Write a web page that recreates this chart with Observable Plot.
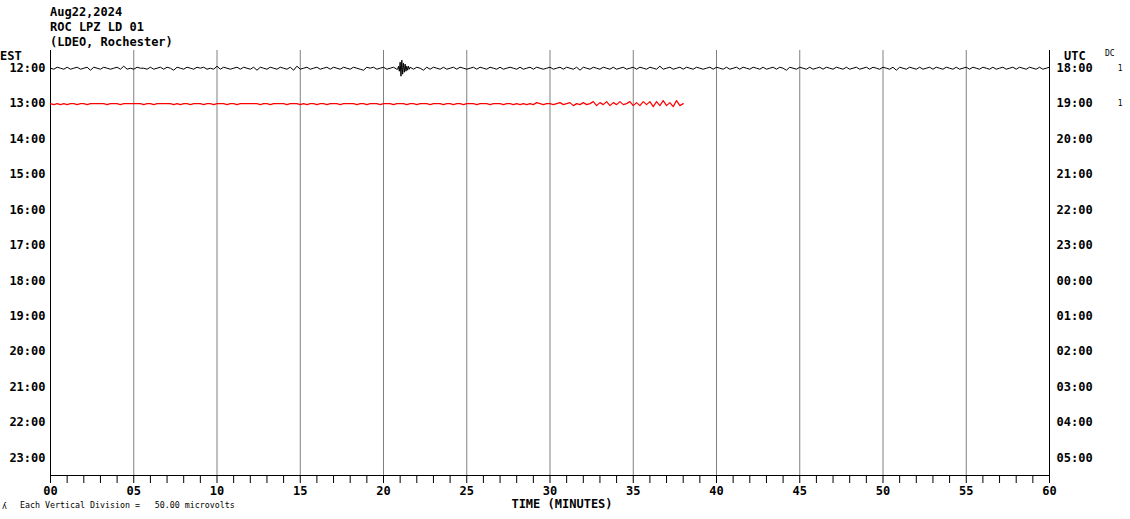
<!DOCTYPE html>
<html>
<head>
<meta charset="utf-8">
<script src="https://cdn.jsdelivr.net/npm/d3@7"></script>
<script src="https://cdn.jsdelivr.net/npm/@observablehq/plot@0.6"></script>
<style>
  body { margin: 0; background: #fff; }
  #wrap { position: relative; width: 1130px; height: 519px; font-family: "DejaVu Sans Mono", monospace; font-weight: bold; font-size: 12px; color: #000; }
  #wrap .t { position: absolute; white-space: pre; line-height: 14px; }
  #wrap svg { position: absolute; left: 0; top: 0; }
</style>
</head>
<body>
<div id="wrap">
  <div class="t" style="left:50px;top:5px;">Aug22,2024</div>
  <div class="t" style="left:50px;top:20px;">ROC LPZ LD 01</div>
  <div class="t" style="left:50px;top:35px;">(LDEO, Rochester)</div>
  <div class="t" style="left:0px;top:49px;">EST</div>
  <div class="t" style="left:1064px;top:49px;">UTC</div>
  <div class="t" style="left:1105px;top:47px;font-size:8px;font-weight:normal;">DC</div>
  <div class="t" style="left:562px;top:497px;transform:translateX(-50%);">TIME (MINUTES)</div>
  <div class="t" style="left:2px;top:500px;font-size:8px;font-weight:normal;">ʎ</div>
  <div class="t" style="left:20px;top:498px;font-size:8.3px;font-weight:normal;">Each Vertical Division =   50.00 microvolts</div>
</div>
<script>
// ---- labels ----
const hoursEST = ["12:00","13:00","14:00","15:00","16:00","17:00","18:00","19:00","20:00","21:00","22:00","23:00"];
const hoursUTC = ["18:00","19:00","20:00","21:00","22:00","23:00","00:00","01:00","02:00","03:00","04:00","05:00"];
const dcLabels = ["1", "1"];
const minuteTicks = d3.range(0, 61);

// ---- trace samples (amplitude counts, positive = downward deflection) ----
const sampleStep = 0.2; // minutes
// row 0 (12:00 EST), minutes 0 .. 20.8
const blackA = [
  0,1,-1,0,1,-1,1,0,-1,1,0,-1,2,-1,0,1,-1,0,1,0,
  -1,1,-2,1,0,1,-1,0,0,1,-1,1,0,-1,1,-1,0,2,-1,0,
  1,-1,0,1,-1,0,-1,1,0,1,-2,1,-1,0,1,0,-1,1,-1,0,
  1,-1,2,-1,0,1,-1,0,1,-1,0,1,-1,2,-2,1,0,-1,1,0,
  -1,1,0,-1,1,-1,0,1,-1,0,1,-1,0,1,2,-1,0,-1,1,0,
  -1,1,0,-1,1
];
// event near minute 21, finer sampling from 20.85 every 0.05 min
const eventStart = 20.85, eventStep = 0.05;
const blackEvent = [1,-2,3,-6,8,-8,6,-5,4,-4,3,-2,2,-2,1,-1];
// row 0, minutes 21.8 .. 60
const blackBStart = 21.8;
const blackB = [
  1,-1,0,2,-1,1,-1,0,1,-1,1,0,-1,1,-1,0,1,0,-1,1,
  -1,0,1,-1,0,1,-1,1,0,-1,0,1,-1,1,0,-1,1,-1,0,1,
  0,-1,1,0,-1,1,-1,0,1,-1,2,-1,0,1,-1,0,1,-1,0,1,
  -1,1,0,-1,1,0,-1,1,-1,0,1,-1,0,1,-2,1,0,-1,1,0,
  -1,1,-1,0,1,-1,0,1,0,-1,1,-1,0,1,-1,1,0,-1,1,-1,
  0,1,-1,0,1,-1,1,0,-1,1,-1,0,2,-1,0,1,-1,0,1,-1,
  1,0,-1,1,-1,0,1,-1,0,1,-1,1,0,-1,1,0,-1,1,-1,0,
  1,-1,0,1,-1,2,-1,0,1,-1,0,1,-1,1,0,-1,1,-1,0,1,
  -1,0,1,-1,1,0,-1,1,-1,0,1,-1,0,1,-1,1,0,-1,1,0,
  -1,1,-1,0,1,-1,0,1,-1,1,0,-1
];
// row 1 (13:00 EST), minutes 0 .. 38
const redTrace = [
  0,1,0,1,0,1,0,0,1,0,0,1,0,0,0,0,0,1,0,0,
  0,1,0,0,0,0,0,0,1,0,0,1,0,0,0,0,0,1,0,1,
  0,0,1,0,0,0,1,0,0,1,0,0,0,1,0,0,1,0,0,0,
  0,0,0,1,0,0,1,0,0,0,0,1,0,0,0,1,0,1,0,0,
  1,0,0,1,0,0,0,1,0,0,0,0,1,0,0,1,0,0,0,1,
  0,0,0,1,0,0,0,1,0,0,1,0,0,0,1,0,0,0,1,0,
  0,1,0,0,1,0,0,0,1,0,0,0,1,0,0,0,1,0,0,1,
  0,1,0,1,0,1,-1,0,1,0,0,1,0,-1,1,0,-1,2,0,1,
  -1,1,0,-2,2,-1,1,-2,2,-1,1,-2,1,0,-2,2,-1,2,-2,1,
  -2,3,-2,2,-3,2,-1,3,-3,2,0
];
const countsPerRow = 35.4;

// ---- build tables ----
const black = [
  ...blackA.map((v, i) => ({t: i * sampleStep, row: 0, v})),
  ...blackEvent.map((v, i) => ({t: eventStart + i * eventStep, row: 0, v})),
  ...blackB.map((v, i) => ({t: blackBStart + i * sampleStep, row: 0, v}))
];
const red = redTrace.map((v, i) => ({t: i * sampleStep, row: 1, v}));
const dc = dcLabels.map((s, i) => ({row: i, s}));
const yOf = d => d.row + d.v / countsPerRow;

const chart = Plot.plot({
  width: 1130,
  height: 519,
  marginLeft: 50,
  marginRight: 81,
  marginTop: 50,
  marginBottom: 44,
  style: {fontFamily: "DejaVu Sans Mono, monospace", fontWeight: "bold", fontSize: "12px", background: "transparent", overflow: "visible"},
  x: {domain: [0, 60]},
  y: {domain: [-0.5, 11.5], reverse: true},
  marks: [
    Plot.ruleX(d3.range(5, 60, 5), {stroke: "#808080", strokeWidth: 1}),
    Plot.ruleX([0, 60], {stroke: "#000", strokeWidth: 1}),
    Plot.ruleY([11.5], {x1: 0, x2: 60, stroke: "#000", strokeWidth: 1}),
    Plot.line(black, {x: "t", y: yOf, stroke: "#000", strokeWidth: 1}),
    Plot.line(red, {x: "t", y: yOf, stroke: "#ff0000", strokeWidth: 1.2}),
    Plot.axisY(d3.range(12), {anchor: "left", tickSize: 0, tickPadding: 5, tickFormat: i => hoursEST[i], fontSize: 12, fontWeight: "bold", label: null}),
    Plot.axisY(d3.range(12), {anchor: "right", tickSize: 0, tickPadding: 7, tickFormat: i => hoursUTC[i], fontSize: 12, fontWeight: "bold", label: null}),
    Plot.axisX(minuteTicks, {anchor: "bottom", tickSize: 8, tickPadding: 3, tickFormat: m => m % 5 === 0 ? String(m).padStart(2, "0") : "", fontSize: 12, fontWeight: "bold", label: null, stroke: "#000"}),
    Plot.text(dc, {frameAnchor: "right", y: "row", text: "s", dx: 73, fontSize: 8, fontWeight: "normal", textAnchor: "end"})
  ]
});
document.getElementById("wrap").prepend(chart);
</script>
</body>
</html>
